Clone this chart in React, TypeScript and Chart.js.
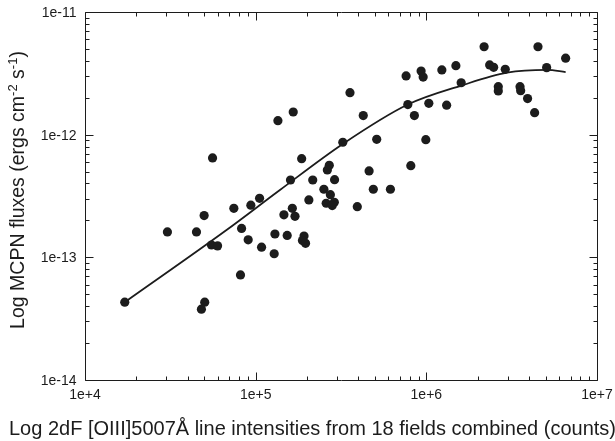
import React, { useEffect, useRef } from 'react';
import { Chart, registerables } from 'chart.js';

Chart.register(...registerables);

// MCPN points: 2dF [OIII]5007 line intensity (counts) vs MCPN flux
const intensityX = [
  1.71e4, 5.03e4, 4.81e4, 8.15e4, 3.04e4, 4.50e4, 5.51e4, 5.98e4, 8.27e4, 9.04e4,
  1.083e5, 1.297e5, 1.284e5, 1.35e5, 5.59e4, 1.054e5, 9.37e4, 7.45e4, 4.99e4, 3.57e5,
  1.66e5, 4.27e5, 7.79e5, 1.034e6, 1.315e6, 8.51e5, 3.24e5, 5.12e5, 9.93e5, 1.86e5,
  2.70e5, 2.63e5, 4.62e5, 8.11e5, 1.60e5, 2.16e5, 2.90e5, 2.51e5, 2.74e5, 4.89e5,
  6.16e5, 2.05e5, 2.59e5, 2.89e5, 2.81e5, 3.94e5, 1.64e5, 1.464e5, 1.70e5, 1.53e5,
  1.92e5, 1.88e5, 1.96e5, 2.18e6, 4.51e6, 6.55e6, 1.233e6, 1.49e6, 2.35e6, 2.48e6,
  2.90e6, 5.07e6, 1.60e6, 2.64e6, 2.64e6, 3.54e6, 3.57e6, 3.92e6, 4.31e6, 7.61e5,
  9.32e5, 9.58e5,
];
const fluxY = [
  4.31e-14, 4.31e-14, 3.78e-14, 7.19e-14, 1.61e-13, 1.61e-13, 1.26e-13, 1.24e-13, 1.72e-13, 1.39e-13,
  1.21e-13, 1.55e-13, 1.07e-13, 1.30e-12, 6.46e-13, 3.03e-13, 2.66e-13, 2.51e-13, 2.19e-13, 2.20e-12,
  1.53e-12, 1.43e-12, 1.76e-12, 1.80e-12, 1.74e-12, 1.43e-12, 8.67e-13, 9.17e-13, 9.10e-13, 6.37e-13,
  5.63e-13, 5.16e-13, 5.06e-13, 5.59e-13, 4.27e-13, 4.27e-13, 4.30e-13, 3.59e-13, 3.24e-13, 3.59e-13,
  3.59e-13, 2.94e-13, 2.76e-13, 2.81e-13, 2.64e-13, 2.59e-13, 2.51e-13, 2.22e-13, 2.16e-13, 1.51e-13,
  1.49e-13, 1.37e-13, 1.30e-13, 5.21e-12, 5.21e-12, 4.20e-12, 3.37e-12, 3.65e-12, 3.70e-12, 3.54e-12,
  3.41e-12, 3.52e-12, 2.65e-12, 2.46e-12, 2.27e-12, 2.46e-12, 2.28e-12, 1.97e-12, 1.51e-12, 3.01e-12,
  3.30e-12, 2.95e-12,
];

// Fitted curve
const fitX = [1.71e4, 6.75e4, 1.387e5, 3.24e5, 7.79e5, 1.6e6, 2.97e6, 5.10e6, 6.55e6];
const fitY = [4.31e-14, 1.67e-13, 3.54e-13, 8.4e-13, 1.76e-12, 2.51e-12, 3.20e-12, 3.37e-12, 3.24e-12];

const xTickValues = [1e4, 1e5, 1e6, 1e7];
const xTickLabels = ['1e+4', '1e+5', '1e+6', '1e+7'];
const yTickValues = [1e-11, 1e-12, 1e-13, 1e-14];
const yTickLabels = ['1e-11', '1e-12', '1e-13', '1e-14'];

const xTitle = 'Log 2dF [OIII]5007Å line intensities from 18 fields combined (counts)';
const yTitleParts: { text: string; sup: boolean }[] = [
  { text: 'Log MCPN fluxes (ergs cm', sup: false },
  { text: '-2', sup: true },
  { text: ' s', sup: false },
  { text: '-1', sup: true },
  { text: ')', sup: false },
];

const FONT = '"Liberation Sans", Arial, sans-serif';
const INK = '#1c1c1c';

const framePlugin = {
  id: 'frameTicks',
  afterDraw(chart: any) {
    const ctx: CanvasRenderingContext2D = chart.ctx;
    const { left, right, top, bottom } = chart.chartArea;
    const xs = chart.scales.x;
    const ys = chart.scales.y;
    ctx.save();
    ctx.strokeStyle = INK;
    ctx.lineWidth = 1;
    const L = Math.round(left) + 0.5;
    const R = Math.round(right) + 0.5;
    const T = Math.round(top) + 0.5;
    const B = Math.round(bottom) + 0.5;
    ctx.beginPath();
    ctx.rect(L, T, R - L, B - T);
    ctx.stroke();

    const major = 8;
    const minor = 4;
    ctx.beginPath();
    for (let d = 4; d <= 7; d++) {
      for (let m = 1; m <= 9; m++) {
        const v = m * Math.pow(10, d);
        if (v > 1e7 * 1.0001) break;
        const px = Math.round(xs.getPixelForValue(v)) + 0.5;
        const len = m === 1 ? major : minor;
        ctx.moveTo(px, B);
        ctx.lineTo(px, B - len);
        ctx.moveTo(px, T);
        ctx.lineTo(px, T + len);
      }
    }
    for (let d = -14; d <= -11; d++) {
      for (let m = 1; m <= 9; m++) {
        const v = m * Math.pow(10, d);
        if (v > 1e-11 * 1.0001) break;
        const py = Math.round(ys.getPixelForValue(v)) + 0.5;
        const len = m === 1 ? major : minor;
        ctx.moveTo(L, py);
        ctx.lineTo(L + len, py);
        ctx.moveTo(R, py);
        ctx.lineTo(R - len, py);
      }
    }
    ctx.stroke();

    ctx.fillStyle = INK;
    ctx.font = `14px ${FONT}`;
    ctx.textAlign = 'center';
    ctx.textBaseline = 'alphabetic';
    xTickValues.forEach((v, i) => {
      ctx.fillText(xTickLabels[i], xs.getPixelForValue(v), B + 18);
    });
    ctx.textAlign = 'right';
    yTickValues.forEach((v, i) => {
      ctx.fillText(yTickLabels[i], L - 9, ys.getPixelForValue(v) + 5);
    });

    ctx.font = `20px ${FONT}`;
    ctx.textAlign = 'left';
    ctx.fillText(xTitle, 9, 435);

    const base = 19.5;
    const supSize = 13;
    let total = 0;
    yTitleParts.forEach((p) => {
      ctx.font = `${p.sup ? supSize : base}px ${FONT}`;
      total += ctx.measureText(p.text).width;
    });
    ctx.translate(24, 190);
    ctx.rotate(-Math.PI / 2);
    let x = -total / 2;
    ctx.textAlign = 'left';
    yTitleParts.forEach((p) => {
      ctx.font = `${p.sup ? supSize : base}px ${FONT}`;
      ctx.fillText(p.text, x, p.sup ? -7 : 0);
      x += ctx.measureText(p.text).width;
    });
    ctx.restore();
  },
};

export default function App() {
  const ref = useRef<HTMLCanvasElement | null>(null);
  useEffect(() => {
    if (!ref.current) return;
    const points = intensityX.map((x, i) => ({ x, y: fluxY[i] }));
    const fit = fitX.map((x, i) => ({ x, y: fitY[i] }));
    const chart = new Chart(ref.current, {
      type: 'scatter',
      data: {
        datasets: [
          {
            type: 'line',
            label: 'Fit',
            data: fit,
            borderColor: INK,
            borderWidth: 1.8,
            pointRadius: 0,
            fill: false,
            tension: 0.4,
            cubicInterpolationMode: 'monotone',
            order: 2,
          } as any,
          {
            label: 'MCPN',
            data: points,
            pointRadius: 4.6,
            pointBackgroundColor: INK,
            pointBorderWidth: 0,
            backgroundColor: INK,
            showLine: false,
            order: 1,
          },
        ],
      },
      options: {
        responsive: false,
        animation: false,
        layout: { padding: { left: 85, right: 18, top: 12, bottom: 61 } },
        plugins: { legend: { display: false }, tooltip: { enabled: false } },
        scales: {
          x: { type: 'logarithmic', min: 1e4, max: 1e7, display: false },
          y: { type: 'logarithmic', min: 1e-14, max: 1e-11, display: false },
        },
      },
      plugins: [framePlugin],
    });
    return () => chart.destroy();
  }, []);
  return (
    <div style={{ position: 'absolute', left: 0, top: 0, width: 615, height: 441, background: '#fff' }}>
      <canvas ref={ref} width={615} height={441} style={{ display: 'block' }} />
    </div>
  );
}
